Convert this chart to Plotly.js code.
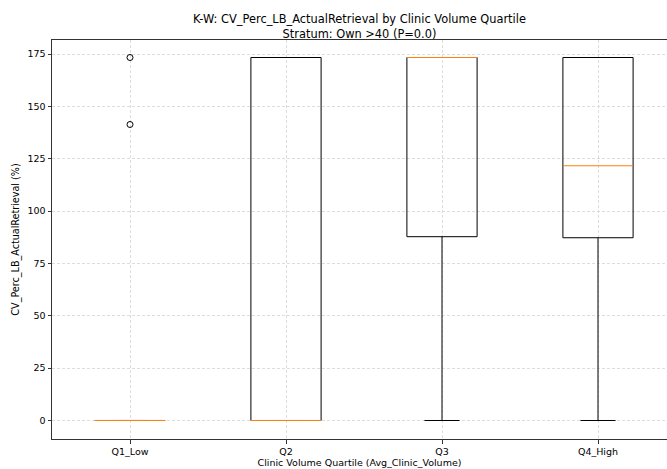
<!DOCTYPE html>
<html>
<head>
<meta charset="utf-8">
<script src="https://cdn.plot.ly/plotly-3.0.1.min.js"></script>
<style>html,body{margin:0;padding:0;background:#fff;}#chart{width:667px;height:469px;}</style>
</head>
<body>
<div id="chart"></div>
<script>
// Data
const categories = ["Q1_Low", "Q2", "Q3", "Q4_High"];
const positions = [1, 2, 3, 4];
const q1Values = [0, 0, 87.8, 87.3];
const medianValues = [0, 0, 173.4, 121.7];
const q3Values = [0, 173.4, 173.4, 173.4];
const lowerFence = [0, 0, 0, 0];
const upperFence = [0, 173.4, 173.4, 173.4];
const outlierX = [1, 1];
const outlierY = [173.4, 141.4];
const yTicks = [0, 25, 50, 75, 100, 125, 150, 175];

const BOX_W = 0.45;
const CAP_W = BOX_W / 2;
const font = {family: "DejaVu Sans", size: 9.5, color: "#000"};

// Box outlines, whiskers and caps built from the statistics arrays
const boxX = [], boxY = [];
const whiskX = [], whiskY = [];
positions.forEach((p, i) => {
  const l = p - BOX_W / 2, r = p + BOX_W / 2;
  boxX.push(l, r, r, l, l, null);
  boxY.push(q1Values[i], q1Values[i], q3Values[i], q3Values[i], q1Values[i], null);
  if (q1Values[i] > lowerFence[i]) { whiskX.push(p, p, null); whiskY.push(q1Values[i], lowerFence[i], null); }
  whiskX.push(p - CAP_W / 2, p + CAP_W / 2, null); whiskY.push(lowerFence[i], lowerFence[i], null);
  if (upperFence[i] > q3Values[i]) { whiskX.push(p, p, null); whiskY.push(q3Values[i], upperFence[i], null); }
  whiskX.push(p - CAP_W / 2, p + CAP_W / 2, null); whiskY.push(upperFence[i], upperFence[i], null);
});
const boxTrace = {
  type: "scatter", mode: "lines", x: boxX, y: boxY,
  line: {color: "#000", width: 1}, hoverinfo: "skip", showlegend: false
};
const whiskerTrace = {
  type: "scatter", mode: "lines", x: whiskX, y: whiskY,
  line: {color: "#000", width: 1}, hoverinfo: "skip", showlegend: false
};

// median segments
const medX = [], medY = [];
positions.forEach((p, i) => {
  medX.push(p - BOX_W / 2, p + BOX_W / 2, null);
  medY.push(medianValues[i], medianValues[i], null);
});
const medianTrace = {
  type: "scatter", mode: "lines", x: medX, y: medY,
  line: {color: "#ff7f0e", width: 1.2}, hoverinfo: "skip", showlegend: false
};
const outlierTrace = {
  type: "scatter", mode: "markers", x: outlierX, y: outlierY,
  marker: {symbol: "circle-open", size: 6, color: "#000", line: {width: 1, color: "#000"}},
  showlegend: false, hoverinfo: "skip"
};

const layout = {
  width: 667,
  height: 469,
  margin: {l: 52, r: 0, t: 40, b: 30, pad: 0},
  paper_bgcolor: "#fff",
  plot_bgcolor: "#fff",
  font: font,
  title: {
    text: "K-W: CV_Perc_LB_ActualRetrieval by Clinic Volume Quartile<br>Stratum: Own >40 (P=0.0)",
    font: {family: "DejaVu Sans", size: 11.4, color: "#000"},
    x: 359.5 / 667, xanchor: "center",
    y: 1 - 23 / 469, yanchor: "middle", yref: "container"
  },
  xaxis: {
    range: [0.5, 0.5 + 615 / 156],
    tickvals: positions,
    ticktext: categories,
    ticks: "outside", ticklen: 3.5, tickcolor: "#333", tickwidth: 1,
    showgrid: true, gridcolor: "#d4d4d4", griddash: "3px,2px", gridwidth: 0.8,
    showline: true, linecolor: "#333", linewidth: 1, mirror: true,
    zeroline: false,
    title: {text: "Clinic Volume Quartile (Avg_Clinic_Volume)", font: font, standoff: 2},
    tickfont: font
  },
  yaxis: {
    range: [-8.84, 181.76],
    tickvals: yTicks,
    ticks: "outside", ticklen: 3.5, tickcolor: "#333", tickwidth: 1,
    showgrid: true, gridcolor: "#d4d4d4", griddash: "3px,2px", gridwidth: 0.8,
    showline: true, linecolor: "#333", linewidth: 1, mirror: false,
    zeroline: false,
    title: {text: "CV_Perc_LB_ActualRetrieval (%)", font: {family: "DejaVu Sans", size: 9.6, color: "#000"}, standoff: 6},
    tickfont: font
  }
};

Plotly.newPlot("chart", [boxTrace, whiskerTrace, medianTrace, outlierTrace], layout, {displayModeBar: false, staticPlot: true});
</script>
</body>
</html>
